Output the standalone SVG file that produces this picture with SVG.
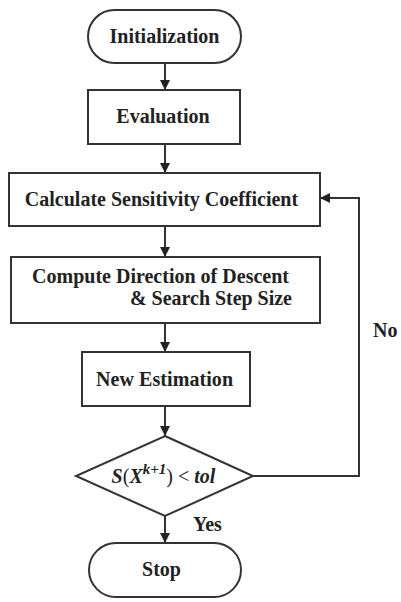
<svg xmlns="http://www.w3.org/2000/svg" width="401" height="602" viewBox="0 0 401 602">
<defs>
<style>
.box{fill:#fff;stroke:#333;stroke-width:2}
.t{font-family:"Liberation Serif","Times New Roman",serif;font-weight:bold;font-size:20px;fill:#222;text-anchor:middle}
.conn{fill:none;stroke:#333;stroke-width:2}
.lbl{font-family:"Liberation Serif","Times New Roman",serif;font-weight:bold;font-size:20px;fill:#222}
</style>
<marker id="ah" markerUnits="userSpaceOnUse" markerWidth="12" markerHeight="12" refX="10" refY="5" orient="auto">
<path d="M0,0 L10,5 L0,10 Z" fill="#222"/>
</marker>
</defs>
<rect width="401" height="602" fill="#fff"/>
<g id="connectors">
<line class="conn" x1="165" y1="63" x2="165" y2="90" marker-end="url(#ah)"/>
<line class="conn" x1="165" y1="144" x2="165" y2="173" marker-end="url(#ah)"/>
<line class="conn" x1="165" y1="226" x2="165" y2="257" marker-end="url(#ah)"/>
<line class="conn" x1="165" y1="323" x2="165" y2="352" marker-end="url(#ah)"/>
<line class="conn" x1="165" y1="406" x2="165" y2="436" marker-end="url(#ah)"/>
<line class="conn" x1="165" y1="516" x2="165" y2="543" marker-end="url(#ah)"/>
<polyline class="conn" points="253,476 359,476 359,198 320,198" marker-end="url(#ah)"/>
<text class="lbl" x="193" y="531">Yes</text>
<text class="lbl" x="373" y="337">No</text>
</g>
<g id="initialization">
<rect class="box" x="88" y="10" width="153" height="53" rx="26.5"/>
<text class="t" x="164.5" y="43">Initialization</text>
</g>
<g id="evaluation">
<rect class="box" x="88" y="90" width="152" height="54"/>
<text class="t" x="163" y="123">Evaluation</text>
</g>
<g id="calculate">
<rect class="box" x="9" y="173" width="311" height="53"/>
<text class="t" x="161.5" y="206">Calculate Sensitivity Coefficient</text>
</g>
<g id="compute">
<rect class="box" x="11" y="257" width="309" height="66"/>
<text class="t" x="160.5" y="283" textLength="257">Compute Direction of Descent</text>
<text class="t" x="211" y="305" textLength="162">&amp; Search Step Size</text>
</g>
<g id="new-estimation">
<rect class="box" x="82" y="352" width="168" height="54"/>
<text class="t" x="164.5" y="386" textLength="137">New Estimation</text>
</g>
<g id="decision">
<polygon class="box" points="165,436 253,476 165,516 76,476"/>
<text class="t" x="163.5" y="483" font-size="23"><tspan font-style="italic">S</tspan><tspan font-weight="normal">(</tspan><tspan font-style="italic">X</tspan><tspan font-style="italic" font-size="15" dy="-9">k+1</tspan><tspan font-weight="normal" dy="9">) &lt; </tspan><tspan font-style="italic">tol</tspan></text>
</g>
<g id="stop">
<rect class="box" x="89" y="543" width="152" height="54" rx="27"/>
<text class="t" x="161.5" y="576">Stop</text>
</g>
</svg>
